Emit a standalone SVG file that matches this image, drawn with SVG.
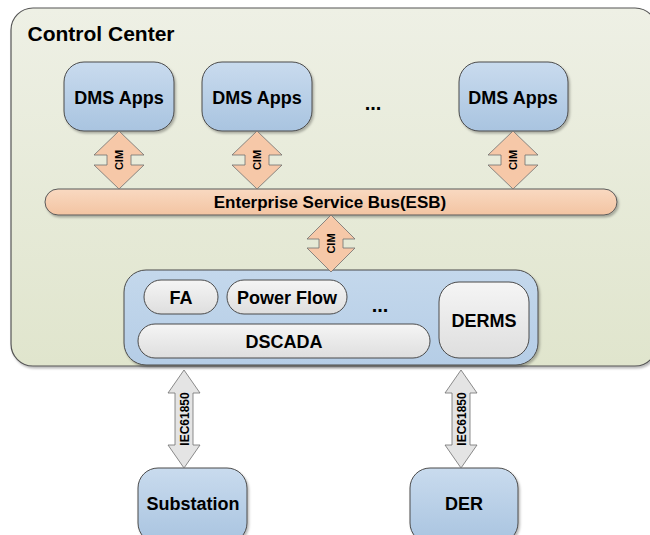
<svg xmlns="http://www.w3.org/2000/svg" width="650" height="535" viewBox="0 0 650 535">
<style>
text{font-family:"Liberation Sans",Arial,sans-serif;font-weight:bold;fill:#000;text-anchor:middle}
.blue{fill:url(#gBlue);stroke:#4a4a4a;stroke-width:1}
.grey{fill:url(#gGrey);stroke:#4a4a4a;stroke-width:1}
.cim{fill:#f6c8a8;stroke:#6e6e6e;stroke-width:0.8}
.iec{fill:#e4e4e4;stroke:#6e6e6e;stroke-width:0.8}
.lbl{font-size:18px}
.dots{font-size:20px}
.small{font-size:11px}
.iect{font-size:12px}
</style>
<defs>
<linearGradient id="gOuter" x1="0" y1="0" x2="0" y2="1"><stop offset="0" stop-color="#eef0e5"/><stop offset="1" stop-color="#e0e5cd"/></linearGradient>
<linearGradient id="gBlue" x1="0" y1="0" x2="0" y2="1"><stop offset="0" stop-color="#c9dbee"/><stop offset="1" stop-color="#a9c4e0"/></linearGradient>
<linearGradient id="gInner" x1="0" y1="0" x2="0" y2="1"><stop offset="0" stop-color="#c4d8ec"/><stop offset="1" stop-color="#b5cde6"/></linearGradient>
<linearGradient id="gGrey" x1="0" y1="0" x2="0" y2="1"><stop offset="0" stop-color="#f5f5f5"/><stop offset="1" stop-color="#dedede"/></linearGradient>
<linearGradient id="gEsb" x1="0" y1="0" x2="0" y2="1"><stop offset="0" stop-color="#f9d9c1"/><stop offset="1" stop-color="#f3c4a2"/></linearGradient>
<filter id="sh" x="-10%" y="-10%" width="130%" height="140%"><feDropShadow dx="1.5" dy="2" stdDeviation="1.2" flood-color="#000" flood-opacity="0.28"/></filter>
</defs>

<g id="control-center">
<rect x="11" y="8" width="646" height="358" rx="22" fill="url(#gOuter)" stroke="#555" stroke-width="1.2" filter="url(#sh)"/>
<text x="101" y="41" style="font-size:21px">Control Center</text>
</g>

<g id="dms1"><rect class="blue" x="64" y="62" width="110" height="69" rx="20" filter="url(#sh)"/><text class="lbl" x="119" y="104">DMS Apps</text></g>
<g id="dms2"><rect class="blue" x="202" y="62" width="110" height="69" rx="20" filter="url(#sh)"/><text class="lbl" x="257" y="104">DMS Apps</text></g>
<g id="dms-dots"><text class="dots" x="373" y="110">...</text></g>
<g id="dms3"><rect class="blue" x="459" y="62" width="109" height="69" rx="20" filter="url(#sh)"/><text class="lbl" x="513" y="104">DMS Apps</text></g>

<g id="esb"><rect x="45" y="189" width="572" height="26" rx="13" fill="url(#gEsb)" stroke="#5a5a5a" stroke-width="1" filter="url(#sh)"/><text x="330" y="208" style="font-size:17px">Enterprise Service Bus(ESB)</text></g>

<g id="system">
<rect x="124" y="270" width="414" height="95" rx="22" fill="url(#gInner)" stroke="#4a4a4a" stroke-width="1" filter="url(#sh)"/>
</g>
<g id="fa"><rect class="grey" x="144" y="280" width="74" height="34" rx="17"/><text class="lbl" x="181" y="304">FA</text></g>
<g id="powerflow"><rect class="grey" x="227" y="280" width="120" height="34" rx="17"/><text class="lbl" x="287" y="304">Power Flow</text></g>
<g id="sys-dots"><text class="dots" x="380" y="312">...</text></g>
<g id="dscada"><rect class="grey" x="138" y="324" width="292" height="34" rx="17"/><text class="lbl" x="284" y="348">DSCADA</text></g>
<g id="derms"><rect class="grey" x="439" y="282" width="90" height="76" rx="20"/><text class="lbl" x="484" y="327">DERMS</text></g>

<g id="substation"><rect class="blue" x="138" y="468" width="109" height="75" rx="20" filter="url(#sh)"/><text class="lbl" x="193" y="510">Substation</text></g>
<g id="der"><rect class="blue" x="410" y="468" width="108" height="75" rx="20" filter="url(#sh)"/><text class="lbl" x="464" y="510">DER</text></g>

<g id="connectors">
<g>
<path class="cim" d="M119,131 L144,155 L131,155 L131,165 L144,165 L119,189 L94,165 L107,165 L107,155 L94,155 Z"/>
<text class="small" transform="translate(123,160) rotate(-90)">CIM</text>
</g>
<g>
<path class="cim" d="M257,131 L282,155 L269,155 L269,165 L282,165 L257,189 L232,165 L245,165 L245,155 L232,155 Z"/>
<text class="small" transform="translate(261,160) rotate(-90)">CIM</text>
</g>
<g>
<path class="cim" d="M513,131 L538,155 L525,155 L525,165 L538,165 L513,189 L488,165 L501,165 L501,155 L488,155 Z"/>
<text class="small" transform="translate(517,160) rotate(-90)">CIM</text>
</g>
<g>
<path class="cim" d="M331,215 L355,239 L343,239 L343,248 L355,248 L331,272 L307,248 L319,248 L319,239 L307,239 Z"/>
<text class="small" transform="translate(335,243.5) rotate(-90)">CIM</text>
</g>
<g>
<path class="iec" d="M184,370 L200,393 L193,393 L193,445 L200,445 L184,468 L168,445 L175,445 L175,393 L168,393 Z"/>
<text class="iect" transform="translate(188.5,419) rotate(-90)">IEC61850</text>
</g>
<g>
<path class="iec" d="M461,370 L477,393 L470,393 L470,445 L477,445 L461,468 L445,445 L452,445 L452,393 L445,393 Z"/>
<text class="iect" transform="translate(465.5,419) rotate(-90)">IEC61850</text>
</g>
</g>
</svg>
